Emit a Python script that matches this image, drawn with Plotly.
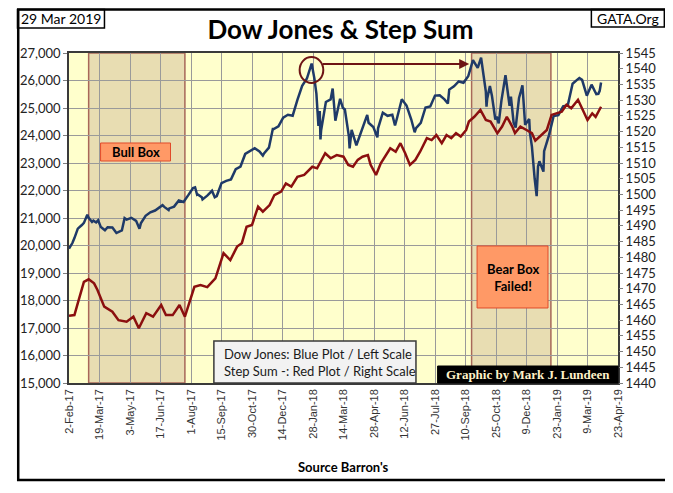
import plotly.graph_objects as go

# Dow Jones closes (left scale)
dow_dates = [
    "2017-02-02", "2017-02-07", "2017-02-10", "2017-02-15", "2017-02-21", "2017-02-24",
    "2017-03-01", "2017-03-03", "2017-03-08", "2017-03-10", "2017-03-14", "2017-03-17",
    "2017-03-21", "2017-03-24", "2017-03-27", "2017-03-31", "2017-04-05", "2017-04-07",
    "2017-04-13", "2017-04-18", "2017-04-21", "2017-04-25", "2017-04-28", "2017-05-05",
    "2017-05-12", "2017-05-17", "2017-05-19", "2017-05-26", "2017-06-02", "2017-06-09",
    "2017-06-16", "2017-06-20", "2017-06-23", "2017-06-29", "2017-06-30", "2017-07-07",
    "2017-07-14", "2017-07-21", "2017-07-28", "2017-08-04", "2017-08-07", "2017-08-10",
    "2017-08-11", "2017-08-17", "2017-08-18", "2017-08-25", "2017-09-01", "2017-09-05",
    "2017-09-08", "2017-09-15", "2017-09-22", "2017-09-29", "2017-10-06", "2017-10-13",
    "2017-10-20", "2017-10-27", "2017-11-03", "2017-11-10", "2017-11-15", "2017-11-17",
    "2017-11-24", "2017-11-30", "2017-12-01", "2017-12-08", "2017-12-15", "2017-12-22",
    "2017-12-29", "2018-01-05", "2018-01-12", "2018-01-19", "2018-01-26", "2018-01-30",
    "2018-02-02", "2018-02-05", "2018-02-07", "2018-02-08", "2018-02-09", "2018-02-16",
    "2018-02-23", "2018-02-26", "2018-03-02", "2018-03-09", "2018-03-13", "2018-03-16",
    "2018-03-22", "2018-03-23", "2018-03-26", "2018-04-02", "2018-04-06", "2018-04-13",
    "2018-04-18", "2018-04-20", "2018-04-27", "2018-05-03", "2018-05-04", "2018-05-11",
    "2018-05-18", "2018-05-25", "2018-05-29", "2018-06-01", "2018-06-08", "2018-06-15",
    "2018-06-22", "2018-06-27", "2018-06-29", "2018-07-06", "2018-07-13", "2018-07-20",
    "2018-07-27", "2018-08-03", "2018-08-10", "2018-08-15", "2018-08-17", "2018-08-24",
    "2018-08-31", "2018-09-07", "2018-09-14", "2018-09-21", "2018-09-28", "2018-10-03",
    "2018-10-05", "2018-10-10", "2018-10-11", "2018-10-12", "2018-10-16", "2018-10-19",
    "2018-10-24", "2018-10-26", "2018-10-29", "2018-11-02", "2018-11-08", "2018-11-09",
    "2018-11-14", "2018-11-16", "2018-11-20", "2018-11-23", "2018-11-28", "2018-11-30",
    "2018-12-03", "2018-12-07", "2018-12-13", "2018-12-14", "2018-12-17", "2018-12-21",
    "2018-12-24", "2018-12-26", "2018-12-28", "2019-01-03", "2019-01-04", "2019-01-11",
    "2019-01-18", "2019-01-25", "2019-02-01", "2019-02-08", "2019-02-15", "2019-02-22",
    "2019-02-25", "2019-03-01", "2019-03-08", "2019-03-15", "2019-03-22", "2019-03-25",
    "2019-03-27", "2019-03-29",
]
dow_values = [
    19884, 20090, 20269, 20612, 20744, 20822,
    21115, 21006, 20856, 20903, 20837, 20915,
    20669, 20597, 20551, 20663, 20648, 20656,
    20453, 20524, 20548, 20996, 20941, 21007,
    20897, 20607, 20805, 21080, 21206, 21272,
    21384, 21468, 21395, 21287, 21350, 21414,
    21638, 21580, 21830, 22093, 22118, 21845,
    21858, 21751, 21675, 21814, 21988, 21754,
    21798, 22268, 22350, 22405, 22773, 22871,
    23329, 23434, 23539, 23422, 23272, 23358,
    23558, 24272, 24231, 24329, 24652, 24754,
    24719, 25296, 25803, 26072, 26617, 26077,
    25521, 24346, 24893, 23860, 24191, 25219,
    25310, 25709, 24538, 25336, 25008, 24947,
    23957, 23533, 24202, 23644, 23933, 24360,
    24748, 24463, 24311, 23930, 24263, 24831,
    24715, 24753, 24362, 24635, 25317, 25090,
    24580, 24117, 24271, 24456, 25019, 25058,
    25451, 25463, 25313, 25162, 25669, 25790,
    25965, 25917, 26155, 26744, 26458, 26828,
    26447, 25599, 25052, 25340, 25798, 25444,
    24583, 24688, 24443, 25270, 26191, 25989,
    25081, 25413, 24465, 24286, 25366, 25538,
    25826, 24389, 24597, 24101, 23593, 22445,
    21792, 22878, 23062, 22686, 23433, 23996,
    24706, 24737, 25064, 25106, 25883, 26031,
    26092, 26026, 25450, 25849, 25502, 25517,
    25626, 25929,
]

# Step Sum (right scale)
step_dates = [
    "2017-02-02", "2017-02-10", "2017-02-15", "2017-02-24", "2017-03-03", "2017-03-11",
    "2017-03-16", "2017-03-26", "2017-04-07", "2017-04-16", "2017-04-28", "2017-05-08",
    "2017-05-16", "2017-05-27", "2017-06-06", "2017-06-18", "2017-06-25", "2017-07-05",
    "2017-07-15", "2017-07-23", "2017-08-06", "2017-08-15", "2017-08-25", "2017-09-06",
    "2017-09-18", "2017-09-28", "2017-10-08", "2017-10-15", "2017-10-22", "2017-10-30",
    "2017-11-08", "2017-11-15", "2017-11-25", "2017-12-02", "2017-12-12", "2017-12-19",
    "2017-12-27", "2018-01-05", "2018-01-15", "2018-01-27", "2018-02-03", "2018-02-08",
    "2018-02-15", "2018-02-23", "2018-03-04", "2018-03-14", "2018-03-21", "2018-03-28",
    "2018-04-04", "2018-04-11", "2018-04-19", "2018-04-23", "2018-05-01", "2018-05-08",
    "2018-05-15", "2018-05-22", "2018-05-30", "2018-06-06", "2018-06-13", "2018-06-20",
    "2018-06-28", "2018-07-05", "2018-07-15", "2018-07-22", "2018-07-29", "2018-08-06",
    "2018-08-13", "2018-08-20", "2018-08-27", "2018-09-03", "2018-09-11", "2018-09-15",
    "2018-09-23", "2018-10-02", "2018-10-10", "2018-10-17", "2018-10-27", "2018-11-03",
    "2018-11-10", "2018-11-18", "2018-11-22", "2018-11-30", "2018-12-09", "2018-12-17",
    "2018-12-22", "2018-12-31", "2019-01-08", "2019-01-15", "2019-01-22", "2019-01-30",
    "2019-02-06", "2019-02-13", "2019-02-23", "2019-03-02", "2019-03-09", "2019-03-16",
    "2019-03-21", "2019-03-29",
]
step_values = [
    1461.4, 1461.6, 1465.4, 1472.2, 1473.0, 1471.7,
    1469.6, 1464.3, 1462.7, 1460.0, 1459.5, 1461.1,
    1457.4, 1462.2, 1461.1, 1464.8, 1461.6, 1461.6,
    1464.8, 1461.1, 1470.6, 1471.2, 1470.5, 1473.3,
    1481.3, 1479.1, 1483.4, 1484.5, 1489.7, 1490.3,
    1496.1, 1494.5, 1496.6, 1499.8, 1500.9, 1503.5,
    1502.5, 1505.6, 1506.2, 1508.8, 1508.3, 1510.4,
    1513.1, 1511.5, 1512.5, 1512.0, 1509.4, 1508.8,
    1511.0, 1512.0, 1512.5, 1509.4, 1506.2, 1509.9,
    1512.5, 1514.7, 1513.6, 1516.3, 1513.1, 1509.4,
    1511.0, 1513.6, 1517.9, 1517.3, 1518.9, 1516.3,
    1518.9, 1517.9, 1519.5, 1518.4, 1520.5, 1523.2,
    1524.7, 1526.9, 1523.7, 1523.2, 1519.5, 1521.6,
    1524.7, 1521.6, 1519.5, 1521.6, 1520.5, 1519.5,
    1517.1, 1518.9, 1520.5, 1525.3, 1525.8, 1526.3,
    1528.5, 1527.4, 1530.1, 1526.9, 1523.7, 1525.8,
    1524.7, 1527.9,
]

tick_dates = [
    "2017-02-02", "2017-03-19", "2017-05-03", "2017-06-17", "2017-08-01", "2017-09-15",
    "2017-10-30", "2017-12-14", "2018-01-28", "2018-03-14", "2018-04-28", "2018-06-12",
    "2018-07-27", "2018-09-10", "2018-10-25", "2018-12-09", "2019-01-23", "2019-03-09",
    "2019-04-23",
]
tick_labels = [
    "2-Feb-17", "19-Mar-17", "3-May-17", "17-Jun-17", "1-Aug-17", "15-Sep-17",
    "30-Oct-17", "14-Dec-17", "28-Jan-18", "14-Mar-18", "28-Apr-18", "12-Jun-18",
    "27-Jul-18", "10-Sep-18", "25-Oct-18", "9-Dec-18", "23-Jan-19", "9-Mar-19",
    "23-Apr-19",
]

bull_box = ["2017-03-03", "2017-07-23"]
bear_box = ["2018-09-19", "2019-01-14"]

CAL = "Lato, Carlito, Calibri, sans-serif"
BLUE = "#1F3A68"
RED = "#8B0F0F"

fig = go.Figure()

fig.add_trace(
    go.Scatter(
        x=dow_dates,
        y=dow_values,
        mode="lines",
        line=dict(color=BLUE, width=2.5),
        name="Dow Jones",
        yaxis="y",
    )
)
fig.add_trace(
    go.Scatter(
        x=step_dates,
        y=step_values,
        mode="lines",
        line=dict(color=RED, width=2.5),
        name="Step Sum",
        yaxis="y2",
    )
)

shapes = []
# shaded boxes
for x0, x1 in [bull_box, bear_box]:
    shapes.append(
        dict(
            type="rect", xref="x", yref="paper", x0=x0, x1=x1, y0=0, y1=1,
            fillcolor="#E8DDB2", line=dict(color="#A8685A", width=1.5), layer="below",
        )
    )
# label boxes
shapes += [
    dict(type="rect", xref="paper", yref="paper", x0=0.0575, x1=0.1849, y0=0.6727, y1=0.7273,
         fillcolor="#FF9966", line=dict(color="#E04A2A", width=1)),
    dict(type="rect", xref="paper", yref="paper", x0=0.7433, x1=0.8725, y0=0.2273, y1=0.4152,
         fillcolor="#FF9966", line=dict(color="#E04A2A", width=1)),
    # legend note box
    dict(type="rect", xref="paper", yref="paper", x0=0.2639, x1=0.6320, y0=0.0, y1=0.1273,
         fillcolor="#F2F2F2", line=dict(color="#3A3A3A", width=1.5)),
    # credit box
    dict(type="rect", xref="paper", yref="paper", x0=0.6714, x1=1.0, y0=0.0, y1=0.0515,
         fillcolor="black", line=dict(color="black", width=1)),
    # circle round the Jan-2018 top
    dict(type="circle", xref="paper", yref="paper", x0=0.4201, x1=0.4632, y0=0.9091, y1=0.9879,
         line=dict(color="#6E1414", width=2)),
    # date box and GATA box
    dict(type="rect", xref="paper", yref="paper", x0=-0.0938, x1=0.0646, y0=1.0758, y1=1.1318,
         fillcolor="white", line=dict(color="black", width=1.5)),
    dict(type="rect", xref="paper", yref="paper", x0=0.9515, x1=1.0844, y0=1.0788, y1=1.1318,
         fillcolor="white", line=dict(color="black", width=1.5)),
    # outer frame
    dict(type="rect", xref="paper", yref="paper", x0=-0.0925, x1=1.088, y0=-0.2939, y1=1.1318,
         line=dict(color="black", width=2.5)),
]


def note(text, x, y, size=13, bold=False, family=CAL, color="black", **kw):
    return dict(
        text=text, x=x, y=y, xref="paper", yref="paper", showarrow=False,
        xanchor=kw.pop("xanchor", "center"), yanchor="middle",
        font=dict(family=family, size=size, color=color, weight="bold" if bold else "normal"),
        **kw,
    )


annotations = [
    note("Bull Box", 0.1212, 0.70, bold=True),
    note("Bear Box<br>Failed!", 0.8079, 0.3212, bold=True),
    note("Dow Jones: Blue Plot / Left Scale<br>Step Sum -: Red Plot / Right Scale",
         0.2783, 0.0636, color="#1A1A1A", xanchor="left", align="left"),
    note("Graphic by Mark J. Lundeen", 0.8366, 0.0258, bold=True,
         family="Liberation Serif, serif", color="#FFF2C8"),
    note("29 Mar 2019", -0.0144, 1.1045, size=14),
    note("GATA.Org", 1.018, 1.1055, size=14),
    note("Source Barron's", 0.5009, -0.2545, bold=True),
    # arrow from the circle to the Sep-2018 top
    dict(text="", x=0.7289, y=0.9667, xref="paper", yref="paper", showarrow=True,
         ax=-148, ay=0, arrowhead=2, arrowsize=1, arrowwidth=2, arrowcolor="#6E1414"),
]

fig.update_layout(
    # page body adds an 8px offset, so the figure is 8px smaller
    width=665,
    height=485,
    autosize=False,
    margin=dict(l=53, r=55, t=45, b=110),
    paper_bgcolor="white",
    plot_bgcolor="#FFFFCC",
    showlegend=False,
    title=dict(
        text="Dow Jones & Step Sum",
        x=0.5,
        xanchor="center",
        y=0.955,
        yanchor="middle",
        font=dict(family=CAL, size=26, color="black", weight="bold"),
    ),
    xaxis=dict(
        type="date",
        range=[tick_dates[0], tick_dates[-1]],
        tickvals=tick_dates,
        ticktext=tick_labels,
        tickangle=-90,
        tickfont=dict(family="Liberation Sans, Arial, sans-serif", size=11, color="#333333"),
        showgrid=True,
        gridcolor="#9A9A9A",
        gridwidth=1,
        showline=True,
        linecolor="#3A3A3A",
        linewidth=1.5,
        mirror=True,
        ticks="",
    ),
    yaxis=dict(
        range=[15000, 27000],
        dtick=1000,
        tickformat=",d",
        tickfont=dict(family=CAL, size=13, color="#222222"),
        showgrid=True,
        gridcolor="#9A9A9A",
        gridwidth=1,
        showline=True,
        linecolor="#3A3A3A",
        linewidth=1.5,
        mirror=True,
        ticks="outside",
        ticklen=4,
        tickcolor="#7F7F7F",
        zeroline=False,
    ),
    yaxis2=dict(
        range=[1440, 1545],
        dtick=5,
        overlaying="y",
        side="right",
        showgrid=False,
        tickfont=dict(family=CAL, size=13, color="#222222"),
        ticks="outside",
        ticklen=4,
        tickcolor="#7F7F7F",
        zeroline=False,
    ),
    shapes=shapes,
    annotations=annotations,
)

fig.write_html("out.html")
